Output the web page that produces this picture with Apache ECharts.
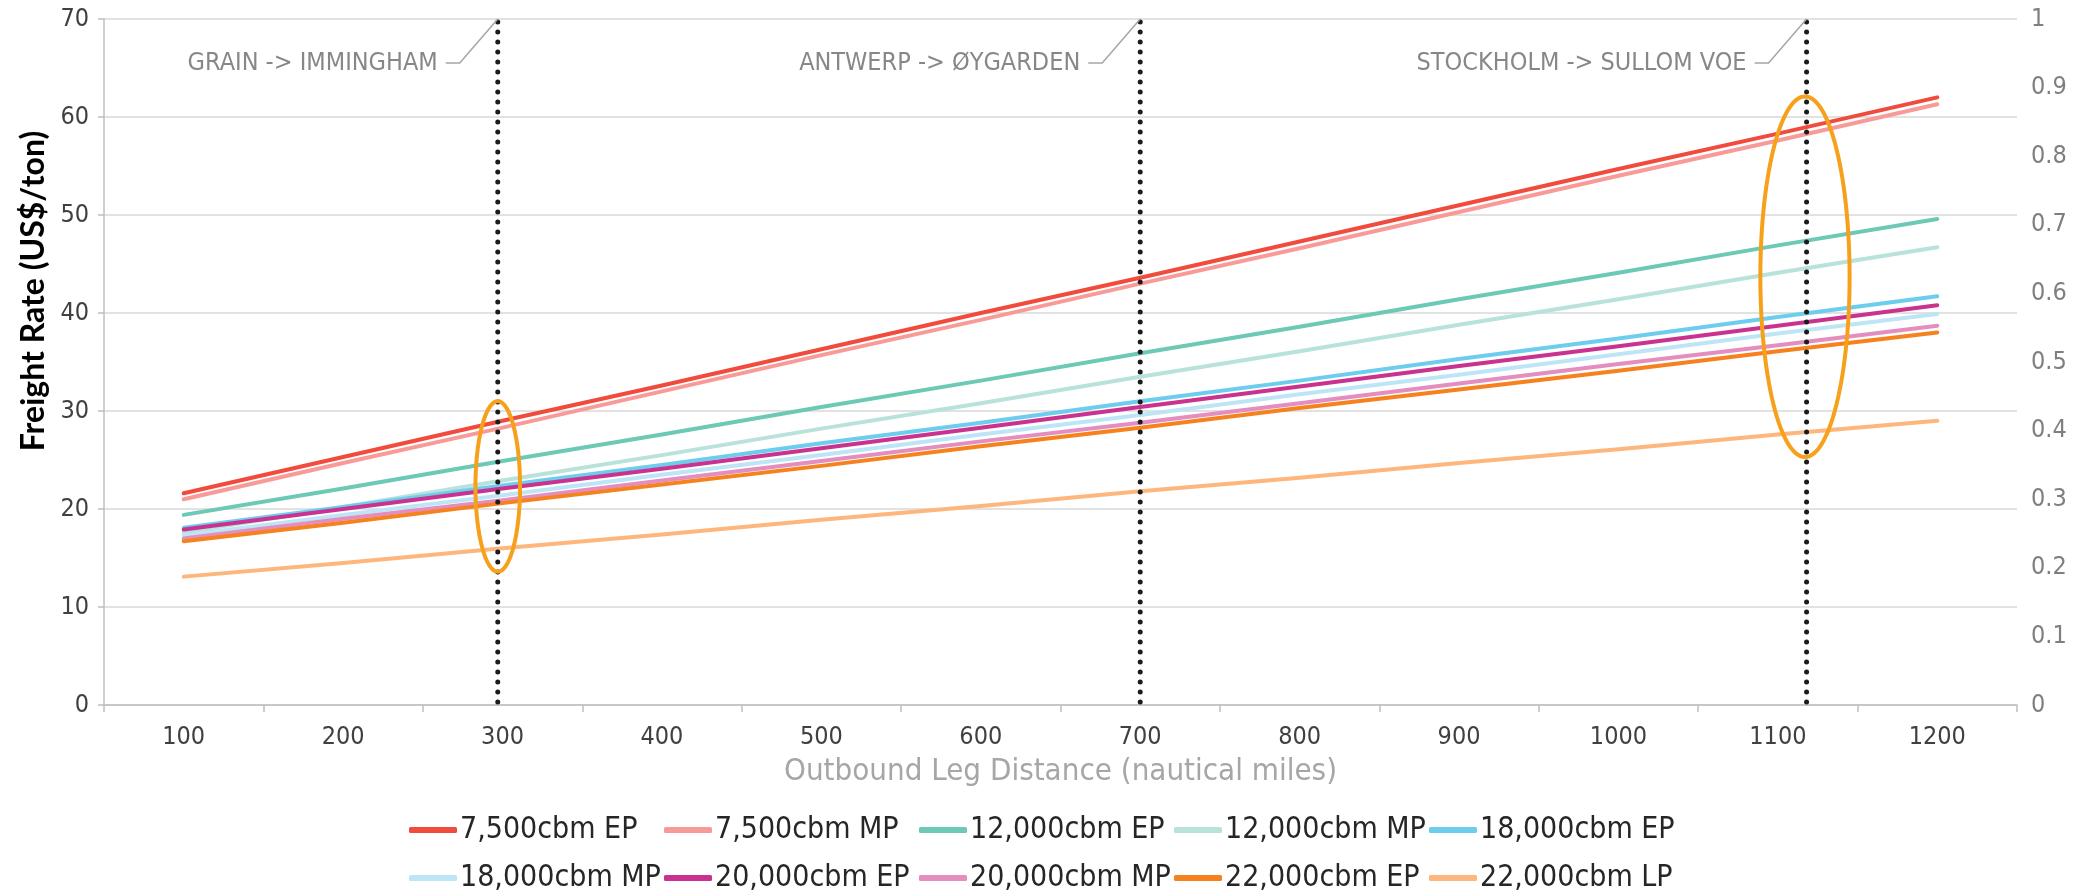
<!DOCTYPE html>
<html>
<head>
<meta charset="utf-8">
<script src="https://cdn.jsdelivr.net/npm/echarts@6/dist/echarts.min.js"></script>
<style>
  html, body { margin: 0; padding: 0; background: #ffffff; }
  #chart { width: 2094px; height: 891px; }
</style>
</head>
<body>
<div id="chart"></div>
<script>
// Outbound leg distance categories (nautical miles)
const distances = ['100', '200', '300', '400', '500', '600', '700', '800', '900', '1000', '1100', '1200'];

// Freight rate (US$/ton) per vessel size / price case
const rate7500EP  = [21.6, 25.3, 29.0, 32.6, 36.3, 40.0, 43.6, 47.3, 51.0, 54.7, 58.3, 62.0];
const rate7500MP  = [21.0, 24.7, 28.3, 32.0, 35.7, 39.3, 43.0, 46.6, 50.3, 54.0, 57.6, 61.3];
const rate12000EP = [19.4, 22.1, 24.9, 27.6, 30.4, 33.1, 35.9, 38.6, 41.4, 44.1, 46.9, 49.6];
const rate12000MP = [17.6, 20.2, 22.9, 25.5, 28.2, 30.8, 33.5, 36.1, 38.8, 41.4, 44.1, 46.7];
const rate18000EP = [18.1, 20.2, 22.4, 24.5, 26.7, 28.8, 31.0, 33.1, 35.3, 37.4, 39.6, 41.7];
const rate18000MP = [17.3, 19.4, 21.4, 23.5, 25.5, 27.6, 29.6, 31.7, 33.7, 35.8, 37.9, 39.9];
const rate20000EP = [17.9, 20.0, 22.1, 24.1, 26.2, 28.3, 30.4, 32.5, 34.6, 36.6, 38.7, 40.8];
const rate20000MP = [17.0, 19.0, 20.9, 22.9, 24.9, 26.9, 28.8, 30.8, 32.8, 34.8, 36.7, 38.7];
const rate22000EP = [16.7, 18.6, 20.6, 22.5, 24.4, 26.4, 28.3, 30.3, 32.2, 34.1, 36.1, 38.0];
const rate22000LP = [13.1, 14.5, 16.0, 17.4, 18.9, 20.3, 21.8, 23.2, 24.7, 26.1, 27.6, 29.0];

const seriesNames = [
  '7,500cbm EP', '7,500cbm MP', '12,000cbm EP', '12,000cbm MP', '18,000cbm EP',
  '18,000cbm MP', '20,000cbm EP', '20,000cbm MP', '22,000cbm EP', '22,000cbm LP'
];
const seriesValues = [
  rate7500EP, rate7500MP, rate12000EP, rate12000MP, rate18000EP,
  rate18000MP, rate20000EP, rate20000MP, rate22000EP, rate22000LP
];
const seriesColors = [
  '#F04B3C', '#F89B98', '#6CC9B6', '#B8E2DA', '#6CCDEF',
  '#BEE5F5', '#C9338F', '#E48DBF', '#F5821F', '#FDB67C'
];

// Reference routes (distance in nautical miles)
const routeMiles = [297, 700, 1118];
const routeNames = ['GRAIN -> IMMINGHAM', 'ANTWERP -> ØYGARDEN', 'STOCKHOLM -> SULLOM VOE'];

// Highlight rings: centre distance, centre rate, half-width (miles), half-height (US$/ton)
const ringMiles = [297, 1117];
const ringRates = [22.3, 43.7];
const ringHalfMiles = [14, 28];
const ringHalfRates = [8.7, 18.4];

// Right-hand axis tick labels
const rightTicks = ['0', '0.1', '0.2', '0.3', '0.4', '0.5', '0.6', '0.7', '0.8', '0.9', '1'];

const FONT_N = '"Liberation Sans Narrow", "DejaVu Sans Condensed", "Arial Narrow", Lato, sans-serif';
const FONT_B = 'Lato, "Open Sans", sans-serif';
const chart = echarts.init(document.getElementById('chart'), null, { renderer: 'canvas' });

const lineSeries = seriesNames.map((name, i) => ({
  name: name,
  type: 'line',
  xAxisIndex: 0,
  yAxisIndex: 0,
  data: seriesValues[i],
  color: seriesColors[i],
  symbol: 'none',
  smooth: false,
  lineStyle: { width: 4, color: seriesColors[i], cap: 'round', join: 'round' },
  emphasis: { disabled: true },
  z: 3
}));

function renderRoute(params, api) {
  const x = api.value(0);
  const top = api.coord([x, 70]);
  const bottom = api.coord([x, 0]);
  const textY = top[1] + 44;
  return {
    type: 'group',
    children: [
      {
        type: 'line',
        shape: { x1: top[0], y1: top[1] + 3, x2: bottom[0], y2: bottom[1] },
        style: { stroke: '#1b1b1b', lineWidth: 5, lineDash: [0, 10], lineCap: 'round' }
      },
      {
        type: 'polyline',
        shape: { points: [[top[0] - 52, textY], [top[0] - 38, textY], [top[0], top[1]]] },
        style: { stroke: '#A6A6A6', lineWidth: 1.5, fill: null }
      },
      {
        type: 'text',
        style: {
          text: routeNames[params.dataIndex],
          x: top[0] - 60, y: textY,
          align: 'right', verticalAlign: 'middle',
          fill: '#878787', fontSize: 25, fontFamily: FONT_N
        }
      }
    ]
  };
}

function renderRing(params, api) {
  const c = api.coord([api.value(0), api.value(1)]);
  const size = api.size([api.value(2), api.value(3)]);
  const rx = size[0], ry = size[1];
  const pts = [];
  for (let k = 0; k < 120; k++) {
    const t = (k / 120) * Math.PI * 2;
    pts.push([c[0] + rx * Math.cos(t), c[1] + ry * Math.sin(t)]);
  }
  return {
    type: 'polygon',
    shape: { points: pts },
    style: { stroke: '#F7A01B', lineWidth: 4, fill: null }
  };
}

// Legend: one entry per cell of a 5-column grid
const LEGEND_COLS = 5;
const LEGEND_LEFT = 409;
const LEGEND_COL_W = 255;
const LEGEND_ROW_TOPS = [815, 863];
const legends = seriesNames.map((name, i) => ({
  data: [name],
  left: LEGEND_LEFT + (i % LEGEND_COLS) * LEGEND_COL_W,
  top: LEGEND_ROW_TOPS[Math.floor(i / LEGEND_COLS)],
  orient: 'horizontal',
  padding: 0,
  itemGap: 0,
  itemWidth: 48,
  itemHeight: 6,
  icon: 'roundRect',
  itemStyle: { borderWidth: 0 },
  lineStyle: { width: 0 },
  textStyle: { fontSize: 30, color: '#262626', fontFamily: FONT_N, padding: [0, 0, 0, -2] }
}));

chart.setOption({
  animation: false,
  backgroundColor: '#ffffff',
  textStyle: { fontFamily: FONT_N },
  grid: { left: 104, right: 77, top: 19, bottom: 186, containLabel: false },
  legend: legends,
  xAxis: [
    {
      type: 'category',
      data: distances,
      boundaryGap: true,
      axisLine: { show: true, lineStyle: { color: '#BFBFBF', width: 1.5 } },
      axisTick: { show: true, length: 7, lineStyle: { color: '#BFBFBF', width: 1.5 } },
      axisLabel: { color: '#404040', fontSize: 25, margin: 20, fontFamily: FONT_N },
      splitLine: { show: false },
      name: 'Outbound Leg Distance (nautical miles)',
      nameLocation: 'middle',
      nameGap: 51,
      nameTextStyle: { color: '#A6A6A6', fontSize: 31, fontFamily: FONT_N }
    },
    {
      type: 'value',
      min: 50,
      max: 1250,
      show: false
    }
  ],
  yAxis: [
    {
      type: 'value',
      min: 0,
      max: 70,
      interval: 10,
      position: 'left',
      axisLine: { show: true, lineStyle: { color: '#BFBFBF', width: 1.5 } },
      axisTick: { show: true, length: 6, lineStyle: { color: '#BFBFBF', width: 1.5 } },
      axisLabel: { color: '#404040', fontSize: 25, margin: 15, fontFamily: FONT_N },
      splitLine: { show: true, lineStyle: { color: '#D9D9D9', width: 1.5 } },
      name: 'Freight Rate (US$/ton)',
      nameLocation: 'middle',
      nameRotate: 90,
      nameGap: 53,
      nameTextStyle: {
        color: '#000000', fontSize: 32, fontWeight: 'bold', fontFamily: FONT_B,
        padding: [0, 0, 0, 142]
      }
    },
    {
      type: 'value',
      min: 0,
      max: 1,
      interval: 0.1,
      position: 'right',
      axisLine: { show: false },
      axisTick: { show: false },
      splitLine: { show: false },
      axisLabel: {
        color: '#7F7F7F', fontSize: 25, margin: 14, fontFamily: FONT_N,
        formatter: (v) => rightTicks[Math.round(v * 10)]
      }
    }
  ],
  series: lineSeries.concat([
    {
      name: 'routes',
      type: 'custom',
      xAxisIndex: 1,
      yAxisIndex: 0,
      renderItem: renderRoute,
      data: routeMiles.map((m) => [m]),
      encode: { x: 0 },
      silent: true,
      clip: false,
      z: 5
    },
    {
      name: 'rings',
      type: 'custom',
      xAxisIndex: 1,
      yAxisIndex: 0,
      renderItem: renderRing,
      data: ringMiles.map((m, i) => [m, ringRates[i], ringHalfMiles[i], ringHalfRates[i]]),
      encode: { x: 0, y: 1 },
      silent: true,
      clip: false,
      z: 6
    }
  ])
});
</script>
</body>
</html>
